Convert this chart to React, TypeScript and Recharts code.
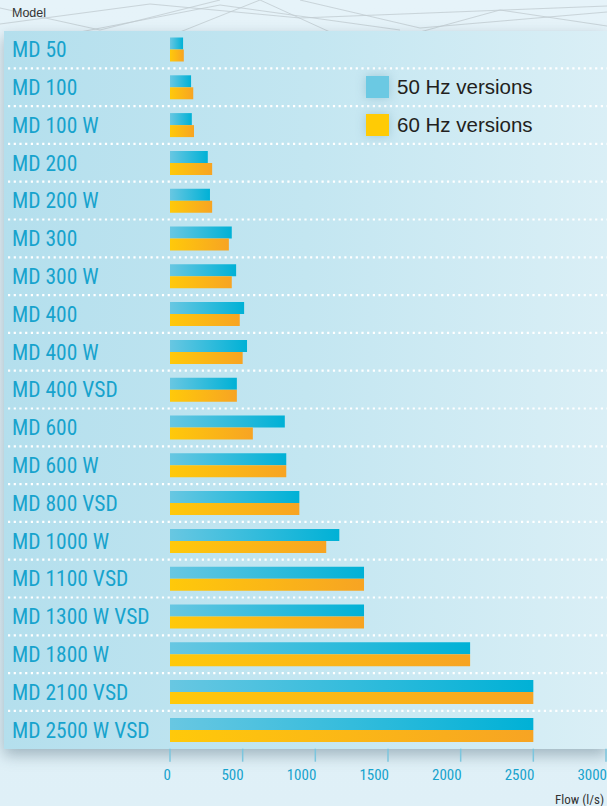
import { BarChart, Bar, XAxis, YAxis, Legend } from "recharts";

const models = [
  "MD 50", "MD 100", "MD 100 W", "MD 200", "MD 200 W", "MD 300", "MD 300 W",
  "MD 400", "MD 400 W", "MD 400 VSD", "MD 600", "MD 600 W", "MD 800 VSD",
  "MD 1000 W", "MD 1100 VSD", "MD 1300 W VSD", "MD 1800 W", "MD 2100 VSD", "MD 2500 W VSD",
];
const flow50 = [90, 145, 150, 260, 275, 425, 455, 510, 530, 460, 790, 800, 890, 1165, 1335, 1335, 2065, 2500, 2500];
const flow60 = [95, 160, 165, 290, 290, 405, 425, 480, 500, 460, 570, 800, 890, 1075, 1335, 1335, 2065, 2500, 2500];
const flowTicks = [0, 500, 1000, 1500, 2000, 2500, 3000];

const data = models.map((model, i) => ({ model, hz50: flow50[i], hz60: flow60[i] }));

const W = 607;
const H = 806;
const TOP = 30.5;
const PLOT_H = 718.2;
const AXIS_H = H - TOP - PLOT_H;
const ROW_H = PLOT_H / models.length;

const narrow = '"Liberation Sans Narrow", "Arial Narrow", "Roboto Condensed", sans-serif';
const sans = '"Liberation Sans", Arial, Helvetica, sans-serif';
const blueText = "#17a3cd";

function ModelTick(props: any) {
  const { y, payload, index } = props;
  return (
    <g>
      <text x={12} y={y} dy="0.36em" textAnchor="start" fontFamily={narrow} fontSize={21.5} fill={blueText}>
        {payload.value}
      </text>
      {index < models.length - 1 && (
        <line
          x1={8}
          x2={W}
          y1={y + ROW_H / 2}
          y2={y + ROW_H / 2}
          stroke="#ffffff"
          strokeWidth={2.2}
          strokeDasharray="2.2 3.5"
        />
      )}
    </g>
  );
}

function FlowTick(props: any) {
  const { x, y, payload } = props;
  return (
    <text x={x + 1} y={y + 16} textAnchor="end" fontFamily={narrow} fontSize={15} fill={blueText}>
      {payload.value}
    </text>
  );
}

const swatch: Record<string, string> = { hz50: "#6bc9e3", hz60: "#ffcb05" };

function LegendBox(props: any) {
  const { payload } = props;
  return (
    <div style={{ fontFamily: sans, fontSize: 20.5, color: "#231f20" }}>
      {(payload || []).map((p: any) => (
        <div key={p.dataKey} style={{ display: "flex", alignItems: "center", height: 37.8 }}>
          <span style={{ width: 23, height: 22, background: swatch[p.dataKey], marginRight: 8, boxShadow: "0 0 10px rgba(120,170,190,0.5)" }} />
          <span>{p.value}</span>
        </div>
      ))}
    </div>
  );
}

export default function App() {
  return (
    <div
      style={{
        position: "relative",
        width: W,
        height: H,
        overflow: "hidden",
        background: "linear-gradient(180deg, #e6f3f9 0%, #dff0f7 100%)",
      }}
    >
      <style>{`body{margin:0}`}</style>
      <svg width={W} height={32} style={{ position: "absolute", left: 0, top: 0 }}>
        <g stroke="#b9c3c8" strokeWidth={0.8} fill="none" opacity={0.8}>
          <path d="M0 24 L150 4 L300 18 L607 6" />
          <path d="M80 32 L220 5 L400 30" />
          <path d="M300 0 L420 28 L607 12" />
          <path d="M420 32 L500 10 L607 26" />
          <path d="M0 8 L100 30 L220 0" />
          <path d="M180 32 L260 0 L330 32" />
        </g>
      </svg>
      <div
        style={{
          position: "absolute",
          left: 4,
          top: TOP,
          width: W - 4,
          height: PLOT_H,
          background: "linear-gradient(90deg, #b4dfed 0%, #c3e6f1 50%, #daeff6 100%)",
          boxShadow: "0 6px 14px rgba(40,70,85,0.35)",
        }}
      />
      <div style={{ position: "absolute", left: 12, top: 6, fontFamily: sans, fontSize: 12.5, color: "#333" }}>
        Model
      </div>
      <div style={{ position: "absolute", left: 555, top: 792, fontFamily: narrow, fontSize: 13, color: "#333", whiteSpace: "nowrap" }}>
        Flow (l/s)
      </div>
      <div style={{ position: "absolute", left: 0, top: 0 }}>
        <BarChart
          width={W}
          height={H}
          data={data}
          layout="vertical"
          margin={{ top: TOP, right: 1, bottom: 0, left: 0 }}
          barSize={12}
          barGap={0}
        >
          <defs>
            <linearGradient id="g50" x1="0" y1="0" x2="1" y2="0">
              <stop offset="0%" stopColor="#68c7e2" />
              <stop offset="100%" stopColor="#00b1d6" />
            </linearGradient>
            <linearGradient id="g60" x1="0" y1="0" x2="1" y2="0">
              <stop offset="0%" stopColor="#ffc90a" />
              <stop offset="100%" stopColor="#f7a423" />
            </linearGradient>
          </defs>
          <XAxis
            type="number"
            domain={[0, 3000]}
            ticks={flowTicks}
            height={AXIS_H}
            axisLine={false}
            tickSize={13}
            tickLine={{ stroke: "#7cc6de", strokeWidth: 1.5 }}
            tick={<FlowTick />}
            interval={0}
          />
          <YAxis
            type="category"
            dataKey="model"
            width={170}
            axisLine={false}
            tickLine={false}
            interval={0}
            tick={<ModelTick />}
          />
          <Legend
            layout="horizontal"
            verticalAlign="middle"
            align="center"
            wrapperStyle={{ left: 366, top: 68.3, width: 220, right: "auto", bottom: "auto" }}
            content={<LegendBox />}
          />
          <Bar dataKey="hz50" name="50 Hz versions" fill="url(#g50)" isAnimationActive={false} />
          <Bar dataKey="hz60" name="60 Hz versions" fill="url(#g60)" isAnimationActive={false} />
        </BarChart>
      </div>
    </div>
  );
}
